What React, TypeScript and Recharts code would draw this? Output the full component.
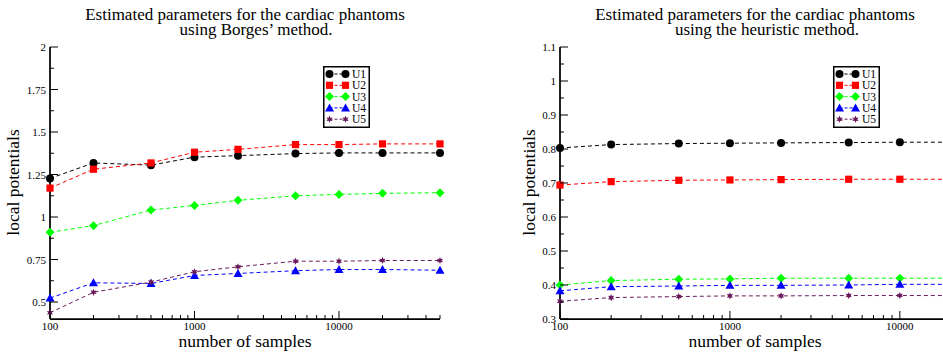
import { LineChart, Line, XAxis, YAxis, Legend } from "recharts";

const FONT = '"Liberation Serif", "Times New Roman", serif';

// Borges' method (left panel)
const borgesSamples = [100, 200, 500, 1000, 2000, 5000, 10000, 20000, 50000];
const borgesU1 = [1.227, 1.318, 1.305, 1.352, 1.361, 1.373, 1.377, 1.377, 1.377];
const borgesU2 = [1.17, 1.281, 1.318, 1.381, 1.398, 1.426, 1.426, 1.43, 1.43];
const borgesU3 = [0.91, 0.949, 1.041, 1.068, 1.098, 1.125, 1.133, 1.139, 1.143];
const borgesU4 = [0.523, 0.613, 0.609, 0.656, 0.668, 0.684, 0.691, 0.691, 0.687];
const borgesU5 = [0.437, 0.557, 0.617, 0.678, 0.707, 0.74, 0.74, 0.744, 0.744];

// heuristic method (right panel)
const heuristicSamples = [100, 200, 500, 1000, 2000, 5000, 10000, 20000];
const heuristicU1 = [0.803, 0.813, 0.816, 0.817, 0.818, 0.819, 0.82, 0.82];
const heuristicU2 = [0.694, 0.704, 0.708, 0.709, 0.71, 0.711, 0.711, 0.711];
const heuristicU3 = [0.4, 0.413, 0.417, 0.418, 0.42, 0.42, 0.42, 0.42];
const heuristicU4 = [0.383, 0.395, 0.397, 0.399, 0.399, 0.4, 0.402, 0.402];
const heuristicU5 = [0.352, 0.363, 0.366, 0.368, 0.368, 0.369, 0.369, 0.369];

const seriesNames = ["U1", "U2", "U3", "U4", "U5"];
const seriesColors = ["#000000", "#ff0000", "#00ff00", "#0000ff", "#6a1b5c"];
const seriesShapes = ["circle", "square", "diamond", "triangle", "star"];

const logTicks = [
  100, 200, 300, 400, 500, 600, 700, 800, 900,
  1000, 2000, 3000, 4000, 5000, 6000, 7000, 8000, 9000,
  10000, 20000, 30000, 40000, 50000,
];
const xMajor = [100, 1000, 10000];

const borgesYTicks = [0.5, 0.625, 0.75, 0.875, 1, 1.125, 1.25, 1.375, 1.5, 1.625, 1.75, 1.875, 2];
const borgesYMajor = [0.5, 0.75, 1, 1.25, 1.5, 1.75, 2];
const heuristicYTicks = [0.3, 0.35, 0.4, 0.45, 0.5, 0.55, 0.6, 0.65, 0.7, 0.75, 0.8, 0.85, 0.9, 0.95, 1, 1.05, 1.1];
const heuristicYMajor = [0.3, 0.4, 0.5, 0.6, 0.7, 0.8, 0.9, 1, 1.1];

function buildRows(samples: number[], series: number[][]) {
  return samples.map((n, i) => {
    const row: Record<string, number> = { n };
    series.forEach((s, k) => {
      row[seriesNames[k]] = s[i];
    });
    return row;
  });
}

const borgesData = buildRows(borgesSamples, [borgesU1, borgesU2, borgesU3, borgesU4, borgesU5]);
const heuristicData = buildRows(heuristicSamples, [heuristicU1, heuristicU2, heuristicU3, heuristicU4, heuristicU5]);

function Marker({ shape, cx, cy, color }: { shape: string; cx: number; cy: number; color: string }) {
  if (shape === "circle") return <circle cx={cx} cy={cy} r={4} fill={color} />;
  if (shape === "square") return <rect x={cx - 3.6} y={cy - 3.6} width={7.2} height={7.2} fill={color} />;
  if (shape === "diamond")
    return <polygon points={`${cx},${cy - 4.5} ${cx + 4.5},${cy} ${cx},${cy + 4.5} ${cx - 4.5},${cy}`} fill={color} />;
  if (shape === "triangle")
    return <polygon points={`${cx},${cy - 4.5} ${cx + 4.5},${cy + 3.5} ${cx - 4.5},${cy + 3.5}`} fill={color} />;
  const pts = Array.from({ length: 12 }, (_, i) => {
    const a = -Math.PI / 2 + (i * Math.PI) / 6;
    const r = i % 2 ? 1.8 : 3.6;
    return `${cx + r * Math.cos(a)},${cy + r * Math.sin(a)}`;
  }).join(" ");
  return <polygon points={pts} fill={color} />;
}

type Side = "bottom" | "top" | "left" | "right";

// inward ticks, long for majors, short for minors; labels only on bottom/left majors
const tickRenderer = (side: Side, majors: number[]) => (props: any) => {
  const { x, y, payload } = props;
  const v = payload.value;
  const major = majors.includes(v);
  const len = major ? 8 : 4;
  let x2 = x;
  let y2 = y;
  if (side === "bottom") y2 = y - len;
  if (side === "top") y2 = y + len;
  if (side === "left") x2 = x + len;
  if (side === "right") x2 = x - len;
  let label = null;
  if (major && side === "bottom")
    label = (
      <text x={x} y={y + 11} textAnchor="middle" fontSize={11} fontFamily={FONT} fill="#000">
        {v}
      </text>
    );
  if (major && side === "left")
    label = (
      <text x={x - 4} y={y + 4} textAnchor="end" fontSize={11} fontFamily={FONT} fill="#000">
        {v}
      </text>
    );
  return (
    <g>
      <line x1={x} y1={y} x2={x2} y2={y2} stroke="#000" strokeWidth={1} />
      {label}
    </g>
  );
};

const LegendBox = () => (
  <svg width={47} height={62} style={{ display: "block" }}>
    <rect x={0.75} y={0.75} width={45.5} height={60.5} fill="#fff" stroke="#000" strokeWidth={1.5} />
    {seriesNames.map((name, i) => {
      const cy = 8 + i * 11.3;
      return (
        <g key={name}>
          <line x1={6.5} y1={cy} x2={22.5} y2={cy} stroke={seriesColors[i]} strokeWidth={1} strokeDasharray="3 2" />
          <Marker shape={seriesShapes[i]} cx={6.5} cy={cy} color={seriesColors[i]} />
          <Marker shape={seriesShapes[i]} cx={22.5} cy={cy} color={seriesColors[i]} />
          <text x={29} y={cy + 4} fontSize={11.5} fontFamily={FONT} fill="#000">
            {name}
          </text>
        </g>
      );
    })}
  </svg>
);

interface PanelProps {
  data: Record<string, number>[];
  width: number;
  yAxisWidth: number;
  rightMargin: number;
  xDomain: [number, number];
  yDomain: [number, number];
  yTicks: number[];
  yMajor: number[];
  legendLeft: number;
}

function Panel({ data, width, yAxisWidth, rightMargin, xDomain, yDomain, yTicks, yMajor, legendLeft }: PanelProps) {
  const xTicks = logTicks.filter((t) => t >= xDomain[0] && t <= xDomain[1]);
  const axisLine = { stroke: "#000", strokeWidth: 1.75 };
  return (
    <LineChart width={width} height={354} data={data} margin={{ top: 47, right: rightMargin, bottom: 0, left: 0 }}>
      <XAxis
        xAxisId="b"
        dataKey="n"
        type="number"
        scale="log"
        domain={xDomain}
        ticks={xTicks}
        interval={0}
        tickSize={0}
        tickMargin={0}
        tickLine={false}
        axisLine={axisLine}
        tick={tickRenderer("bottom", xMajor)}
        height={35}
      />
      <XAxis
        xAxisId="t"
        orientation="top"
        type="number"
        scale="log"
        domain={xDomain}
        ticks={xTicks}
        interval={0}
        tickSize={0}
        tickMargin={0}
        tickLine={false}
        axisLine={axisLine}
        tick={tickRenderer("top", xMajor)}
        height={0}
      />
      <YAxis
        yAxisId="l"
        type="number"
        domain={yDomain}
        ticks={yTicks}
        interval={0}
        tickSize={0}
        tickMargin={0}
        tickLine={false}
        axisLine={axisLine}
        tick={tickRenderer("left", yMajor)}
        width={yAxisWidth}
      />
      <YAxis
        yAxisId="r"
        orientation="right"
        type="number"
        domain={yDomain}
        ticks={yTicks}
        interval={0}
        tickSize={0}
        tickMargin={0}
        tickLine={false}
        axisLine={axisLine}
        tick={tickRenderer("right", yMajor)}
        width={0}
      />
      <Legend
        layout="vertical"
        align="center"
        verticalAlign="middle"
        content={() => <LegendBox />}
        wrapperStyle={{ position: "absolute", left: legendLeft, top: 66, width: 47, height: 62 }}
      />
      {seriesNames.map((name, i) => (
        <Line
          key={name}
          xAxisId="b"
          yAxisId="l"
          type="linear"
          dataKey={name}
          name={name}
          stroke={seriesColors[i]}
          strokeWidth={1}
          strokeDasharray="4 3"
          dot={(p: any) => (
            <Marker key={`${name}-${p.index}`} shape={seriesShapes[i]} cx={p.cx} cy={p.cy} color={seriesColors[i]} />
          )}
          activeDot={false}
          isAnimationActive={false}
        />
      ))}
    </LineChart>
  );
}

const textStyle = { fontFamily: FONT, fill: "#000" };

export default function App() {
  return (
    <div
      style={{
        position: "fixed",
        left: 0,
        top: 0,
        width: 943,
        height: 354,
        overflow: "hidden",
        background: "#fff",
      }}
    >
      <svg width={943} height={354} style={{ position: "absolute", left: 0, top: 0 }}>
        <text x={245} y={20} textAnchor="middle" fontSize={17} style={textStyle}>
          Estimated parameters for the cardiac phantoms
        </text>
        <text x={256} y={34.5} textAnchor="middle" fontSize={17} style={textStyle}>
          using Borges’ method.
        </text>
        <text x={755} y={20} textAnchor="middle" fontSize={17} style={textStyle}>
          Estimated parameters for the cardiac phantoms
        </text>
        <text x={767} y={34.5} textAnchor="middle" fontSize={17} style={textStyle}>
          using the heuristic method.
        </text>
        <text x={245} y={346.5} textAnchor="middle" fontSize={17.5} style={textStyle}>
          number of samples
        </text>
        <text x={755} y={346.5} textAnchor="middle" fontSize={17.5} style={textStyle}>
          number of samples
        </text>
        <text x={19} y={182.5} textAnchor="middle" fontSize={17.5} transform="rotate(-90 19 182.5)" style={textStyle}>
          local potentials
        </text>
        <text x={535} y={182.5} textAnchor="middle" fontSize={17.5} transform="rotate(-90 535 182.5)" style={textStyle}>
          local potentials
        </text>
      </svg>
      <div style={{ position: "absolute", left: 0, top: 0 }}>
        <Panel
          data={borgesData}
          width={470}
          yAxisWidth={50}
          rightMargin={30}
          xDomain={[100, 50000]}
          yDomain={[0.4, 2]}
          yTicks={borgesYTicks}
          yMajor={borgesYMajor}
          legendLeft={323}
        />
      </div>
      <div style={{ position: "absolute", left: 470, top: 0 }}>
        <Panel
          data={heuristicData}
          width={500}
          yAxisWidth={90}
          rightMargin={19}
          xDomain={[100, 20000]}
          yDomain={[0.3, 1.1]}
          yTicks={heuristicYTicks}
          yMajor={heuristicYMajor}
          legendLeft={363}
        />
      </div>
    </div>
  );
}
